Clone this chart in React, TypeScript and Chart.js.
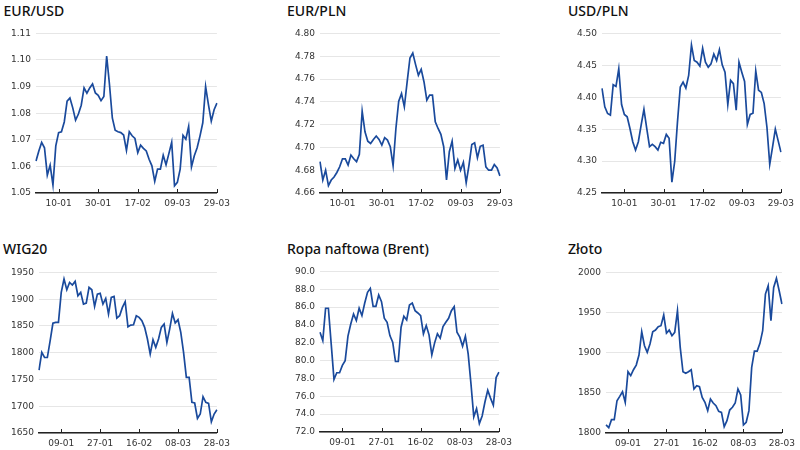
import React, { useEffect, useRef } from "react";
import { Chart, registerables } from "chart.js";

Chart.register(...registerables);

const DATES_TOP = [
  "29-12", "30-12", "02-01", "03-01", "04-01", "05-01", "06-01", "09-01", "10-01", "11-01",
  "12-01", "13-01", "16-01", "17-01", "18-01", "19-01", "20-01", "23-01", "24-01", "25-01",
  "26-01", "27-01", "30-01", "31-01", "01-02", "02-02", "03-02", "06-02", "07-02", "08-02",
  "09-02", "10-02", "13-02", "14-02", "15-02", "16-02", "17-02", "20-02", "21-02", "22-02",
  "23-02", "24-02", "27-02", "28-02", "01-03", "02-03", "03-03", "06-03", "07-03", "08-03",
  "09-03", "10-03", "13-03", "14-03", "15-03", "16-03", "17-03", "20-03", "21-03", "22-03",
  "23-03", "24-03", "27-03", "28-03", "29-03",
];

const DATES_BOTTOM = [
  "28-12", "29-12", "30-12", "02-01", "03-01", "04-01", "05-01", "06-01", "09-01", "10-01",
  "11-01", "12-01", "13-01", "16-01", "17-01", "18-01", "19-01", "20-01", "23-01", "24-01",
  "25-01", "26-01", "27-01", "30-01", "31-01", "01-02", "02-02", "03-02", "06-02", "07-02",
  "08-02", "09-02", "10-02", "13-02", "14-02", "15-02", "16-02", "17-02", "20-02", "21-02",
  "22-02", "23-02", "24-02", "27-02", "28-02", "01-03", "02-03", "03-03", "06-03", "07-03",
  "08-03", "09-03", "10-03", "13-03", "14-03", "15-03", "16-03", "17-03", "20-03", "21-03",
  "22-03", "23-03", "24-03", "27-03", "28-03",
];

const TICK_INDEX = [8, 22, 36, 50, 64];

const EURUSD = [
  1.062, 1.0658, 1.069, 1.067, 1.0567, 1.0605, 1.053, 1.0677, 1.0727, 1.073,
  1.0767, 1.0845, 1.0857, 1.082, 1.0774, 1.0797, 1.083, 1.0895, 1.0875, 1.0895,
  1.091, 1.0876, 1.0867, 1.0847, 1.0863, 1.1015, 1.0907, 1.0782, 1.0736, 1.073,
  1.0727, 1.0718, 1.066, 1.073, 1.0715, 1.0705, 1.0652, 1.068, 1.0668, 1.0658,
  1.0627, 1.0602, 1.0544, 1.059, 1.059, 1.0642, 1.0606, 1.0648, 1.0691, 1.0527,
  1.054, 1.059, 1.0717, 1.0702, 1.075, 1.0598, 1.064, 1.067, 1.0714, 1.0764,
  1.09, 1.0832, 1.077, 1.0813, 1.0838,
];

const EURPLN = [
  4.6875, 4.6714, 4.68, 4.6665, 4.6714, 4.674, 4.678, 4.683, 4.69, 4.69,
  4.6845, 4.6933, 4.69, 4.6875, 4.694, 4.7318, 4.7137, 4.7055, 4.7035, 4.707,
  4.71, 4.707, 4.702, 4.7085, 4.7064, 4.7006, 4.684, 4.7166, 4.7405, 4.7472,
  4.7356, 4.7574, 4.7784, 4.7828, 4.7726, 4.7633, 4.7685, 4.7574, 4.7414, 4.7458,
  4.7458, 4.7224, 4.7166, 4.7114, 4.7006, 4.6714, 4.6962, 4.7055, 4.6816, 4.689,
  4.68, 4.6869, 4.669, 4.6845, 4.7026, 4.704, 4.691, 4.701, 4.702, 4.683,
  4.68, 4.68, 4.685, 4.682, 4.675,
];

const USDPLN = [
  4.414, 4.385, 4.3745, 4.372, 4.4196, 4.417, 4.4445, 4.3885, 4.373, 4.3693,
  4.3511, 4.3304, 4.3174, 4.3304, 4.3563, 4.3812, 4.3511, 4.3226, 4.3262, 4.3226,
  4.3174, 4.3294, 4.3278, 4.3418, 4.3356, 4.2671, 4.2993, 4.3615, 4.416, 4.4238,
  4.4144, 4.4341, 4.4818, 4.4575, 4.4549, 4.4487, 4.4767, 4.4549, 4.4471, 4.4523,
  4.4678, 4.4575, 4.4746, 4.4507, 4.4393, 4.3885, 4.4264, 4.4212, 4.3797, 4.4549,
  4.4393, 4.4248, 4.3574, 4.373, 4.375, 4.441, 4.411, 4.4075, 4.39, 4.353,
  4.295, 4.322, 4.35, 4.332, 4.314,
];

const WIG20 = [
  1767.6, 1800.6, 1791, 1791, 1822, 1855, 1856.6, 1856.6, 1912.6, 1937.5,
  1917.6, 1931.3, 1926.3, 1933.2, 1906.4, 1912.6, 1890.8, 1892.7, 1922, 1917.6,
  1886.5, 1909.5, 1910.8, 1890.8, 1901.4, 1872.2, 1903.3, 1905.2, 1864.7, 1869,
  1884.6, 1895.2, 1848.5, 1851.6, 1852.2, 1869, 1866, 1859.7, 1847.3, 1825.5,
  1797.5, 1824.2, 1810, 1825.5, 1847.3, 1853.5, 1819.2, 1844.1, 1873.4, 1855.4,
  1861.6, 1838, 1800.6, 1753.9, 1753.9, 1707.2, 1706, 1677.3, 1685.4, 1717.8,
  1707.2, 1705.3, 1671, 1685.4, 1693.5,
];

const BRENT = [
  83.18, 82.25, 85.87, 85.87, 81.9, 77.9, 78.64, 78.64, 79.46, 80.0,
  82.74, 84.1, 85.23, 84.49, 85.87, 85.05, 86.46, 87.65, 88.1, 86.09,
  86.09, 87.36, 86.61, 84.75, 84.3, 82.81, 82.07, 79.9, 79.9, 83.74,
  84.97, 84.56, 86.24, 86.46, 85.6, 85.34, 85.05, 83.0, 83.93, 82.89,
  80.65, 81.99, 83.0, 82.51, 83.82, 84.3, 84.75, 85.6, 86.05, 83.18,
  82.63, 81.62, 82.74, 80.76, 77.41, 73.69, 74.62, 72.94, 73.8, 75.36,
  76.67, 75.8, 75.0, 78.1, 78.7,
];

const ZLOTO = [
  1810, 1806.6, 1816.6, 1816.6, 1840.2, 1845.6, 1851.4, 1838.2, 1876.3, 1871.4,
  1878.8, 1884.6, 1897.1, 1926.1, 1908.7, 1900.4, 1910.8, 1926.1, 1928.2, 1932.4,
  1933.6, 1946.9, 1924.5, 1928.2, 1921.2, 1925.3, 1952.3, 1906.6, 1876.3, 1874.3,
  1876.3, 1878.8, 1854.8, 1858.9, 1857.7, 1844.4, 1838.2, 1827.8, 1842.3, 1837.3,
  1834, 1826.9, 1825.7, 1807.9, 1815.4, 1828.6, 1832, 1837.3, 1854.8, 1847.3,
  1810, 1813.3, 1827.8, 1881.7, 1902, 1902, 1911.6, 1927.4, 1973, 1983.4,
  1939.8, 1981.3, 1992.5, 1977.2, 1960.6,
];

type PanelDef = {
  title: string;
  labels: string[];
  data: number[];
  min: number;
  max: number;
  step: number;
  decimals: number;
  L: number;
  T: number;
  R: number;
  B: number;
  titleX: number;
  titleY: number;
};

const PANELS: PanelDef[] = [
  { title: "EUR/USD", labels: DATES_TOP, data: EURUSD, min: 1.05, max: 1.11, step: 0.01, decimals: 2, L: 36, T: 33, R: 218.5, B: 193, titleX: 3.5, titleY: 11 },
  { title: "EUR/PLN", labels: DATES_TOP, data: EURPLN, min: 4.66, max: 4.8, step: 0.02, decimals: 2, L: 319.5, T: 33, R: 501, B: 193, titleX: 287, titleY: 11 },
  { title: "USD/PLN", labels: DATES_TOP, data: USDPLN, min: 4.25, max: 4.5, step: 0.05, decimals: 2, L: 602, T: 33, R: 783, B: 193, titleX: 568, titleY: 11 },
  { title: "WIG20", labels: DATES_BOTTOM, data: WIG20, min: 1650, max: 1950, step: 50, decimals: 0, L: 39, T: 271.5, R: 218.5, B: 432, titleX: 3, titleY: 249 },
  { title: "Ropa naftowa (Brent)", labels: DATES_BOTTOM, data: BRENT, min: 72, max: 90, step: 2, decimals: 1, L: 320, T: 271, R: 501, B: 432, titleX: 287, titleY: 249 },
  { title: "Złoto", labels: DATES_BOTTOM, data: ZLOTO, min: 1800, max: 2000, step: 50, decimals: 0, L: 605.5, T: 271.5, R: 783.3, B: 432, titleX: 568, titleY: 249 },
];

const Y_AXIS_W = 36;
const PAD_TOP = 10;
const X_AXIS_H = 22;
const PAD_RIGHT = 16;
const LINE_COLOR = "#1a4a9c";

const innerTicks = {
  id: "innerTicks",
  afterDraw(chart: any) {
    const xs = chart.scales.x;
    const ctx = chart.ctx;
    const b = chart.chartArea.bottom;
    ctx.save();
    ctx.strokeStyle = "#222";
    ctx.lineWidth = 1;
    xs.ticks.forEach((_t: any, i: number) => {
      const px = Math.round(xs.getPixelForTick(i)) + 0.5;
      ctx.beginPath();
      ctx.moveTo(px, b);
      ctx.lineTo(px, b - 4);
      ctx.stroke();
    });
    ctx.restore();
  },
};

function Panel({ p }: { p: PanelDef }) {
  const ref = useRef<HTMLCanvasElement | null>(null);
  const w = Math.round(Y_AXIS_W + (p.R - p.L) + PAD_RIGHT);
  const h = Math.round(PAD_TOP + (p.B - p.T) + X_AXIS_H);
  const left = p.L - Y_AXIS_W;
  const top = p.T - PAD_TOP;

  useEffect(() => {
    if (!ref.current) return;
    const chart = new Chart(ref.current, {
      type: "line",
      data: {
        labels: p.labels,
        datasets: [
          {
            data: p.data,
            borderColor: LINE_COLOR,
            borderWidth: 1.7,
            pointRadius: 0,
            tension: 0,
            fill: false,
          },
        ],
      },
      options: {
        animation: false,
        responsive: false,
        maintainAspectRatio: false,
        layout: { padding: { top: PAD_TOP, right: PAD_RIGHT, bottom: 0, left: 0 } },
        plugins: { legend: { display: false }, tooltip: { enabled: false }, title: { display: false } },
        scales: {
          x: {
            type: "category",
            offset: false,
            grid: { display: false, drawTicks: false },
            border: { display: true, color: "#222", width: 1.5 },
            ticks: {
              autoSkip: false,
              maxRotation: 0,
              minRotation: 0,
              padding: 5,
              color: "#333",
              font: { family: "DejaVu Sans", size: 9 },
            },
            afterBuildTicks: (scale: any) => {
              scale.ticks = scale.ticks.filter((t: any) => TICK_INDEX.includes(t.value));
            },
            afterFit: (scale: any) => {
              scale.height = X_AXIS_H;
            },
          },
          y: {
            min: p.min,
            max: p.max,
            grid: { color: "#e6e6e6", lineWidth: 1, drawTicks: false },
            border: { display: false },
            ticks: {
              stepSize: p.step,
              padding: 5,
              color: "#333",
              font: { family: "DejaVu Sans", size: 9 },
              callback: (v: any) => Number(v).toFixed(p.decimals),
            },
            afterFit: (scale: any) => {
              scale.width = Y_AXIS_W;
            },
          },
        },
      },
      plugins: [innerTicks],
    });
    return () => chart.destroy();
  }, []);

  return (
    <>
      <div
        style={{
          position: "absolute",
          left: p.titleX,
          top: p.titleY - 10,
          height: 20,
          lineHeight: "20px",
          fontFamily: "'Noto Sans', sans-serif",
          fontSize: 14,
          fontWeight: 500,
          color: "#111",
          whiteSpace: "nowrap",
        }}
      >
        {p.title}
      </div>
      <canvas
        ref={ref}
        width={w}
        height={h}
        style={{ position: "absolute", left, top, width: w, height: h }}
      />
    </>
  );
}

export default function App() {
  return (
    <div style={{ position: "absolute", left: 0, top: 0, width: 800, height: 450, background: "#fff", overflow: "hidden" }}>
      {PANELS.map((p) => (
        <Panel key={p.title} p={p} />
      ))}
    </div>
  );
}
